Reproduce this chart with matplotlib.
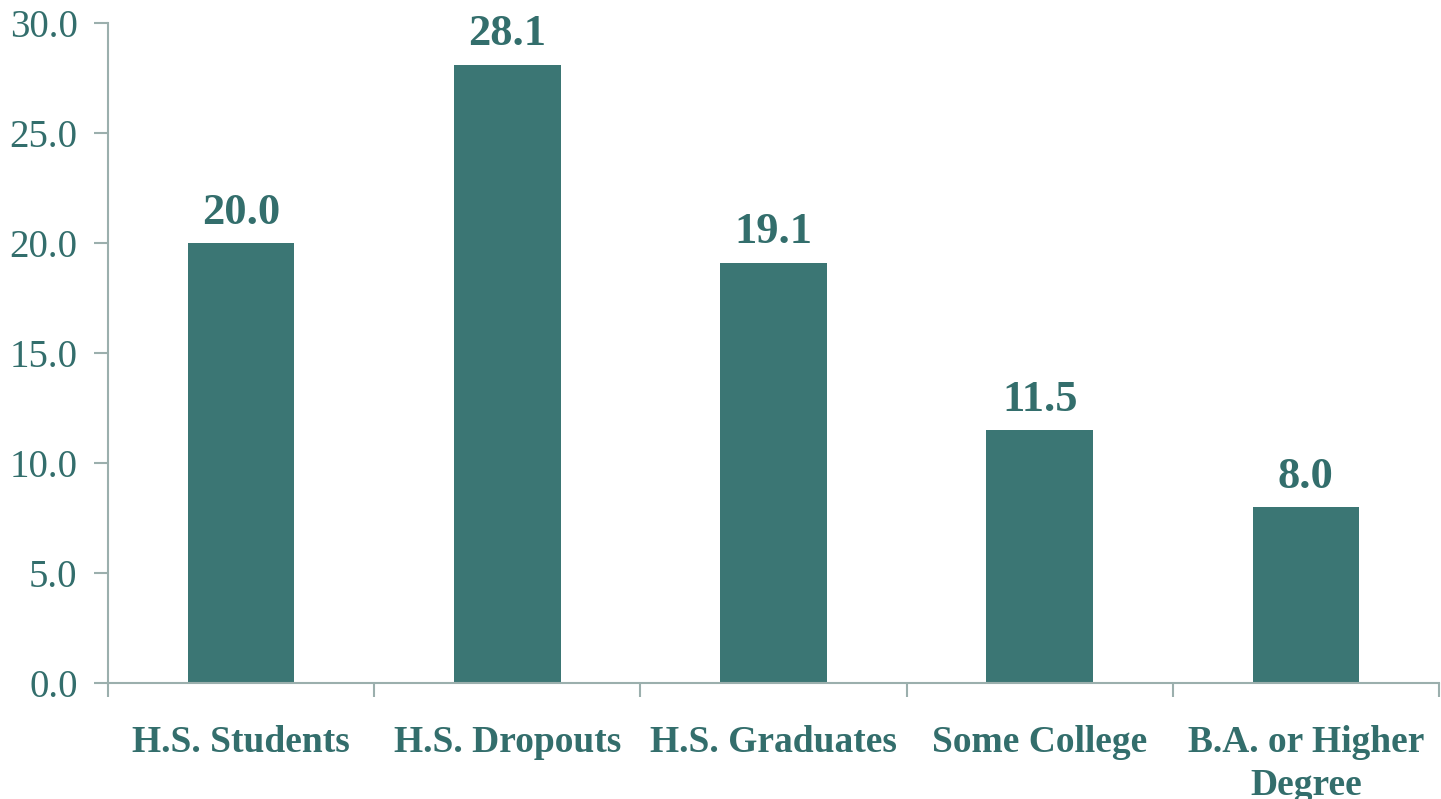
import matplotlib.pyplot as plt
import numpy as np

categories = ['H.S. Students', 'H.S. Dropouts', 'H.S. Graduates',
              'Some College', 'B.A. or Higher\nDegree']
values = [20.0, 28.1, 19.1, 11.5, 8.0]

bar_color = '#3B7674'
text_color = '#336E6C'
spine_color = '#9BAFAD'

plt.rcParams['font.family'] = 'Liberation Serif'

fig = plt.figure(figsize=(14.41, 7.99), dpi=100)
ax = fig.add_axes([0.075, 0.1452, 0.9236, 0.826])

x = np.arange(len(categories))
bars = ax.bar(x, values, width=0.4, color=bar_color, zorder=2)

# value labels above bars
for xi, v in zip(x, values):
    ax.annotate('{:.1f}'.format(v), (xi, v), xytext=(0, 14), textcoords='offset points',
                ha='center', va='baseline', fontsize=32, fontweight='bold',
                color=text_color, annotation_clip=False)

# spines
for s in ['top', 'right']:
    ax.spines[s].set_visible(False)
for s in ['left', 'bottom']:
    ax.spines[s].set_color(spine_color)
    ax.spines[s].set_linewidth(1.5)

# y axis
ax.set_ylim(0, 30)
ax.set_yticks(np.arange(0, 30.1, 5))
ax.set_yticklabels(['{:.1f}'.format(t) for t in np.arange(0, 30.1, 5)])
ax.tick_params(axis='y', direction='out', length=10, width=1.5,
               color=spine_color, labelsize=28, labelcolor=text_color, pad=12)

# x axis: ticks at category boundaries, labels centered
ax.set_xlim(-0.5, len(categories) - 0.5)
ax.set_xticks(np.arange(-0.5, len(categories), 1.0))
ax.set_xticklabels([])
ax.tick_params(axis='x', direction='out', length=10, width=1.5, color=spine_color)
ax.set_xticks(x, minor=True)
ax.set_xticklabels(categories, minor=True)
ax.tick_params(axis='x', which='minor', length=0, pad=30, labelsize=27,
               labelcolor=text_color)
for lbl in ax.get_xticklabels(minor=True):
    lbl.set_fontweight('bold')
    lbl.set_linespacing(1.3)

fig.savefig('out.png', dpi=100)
